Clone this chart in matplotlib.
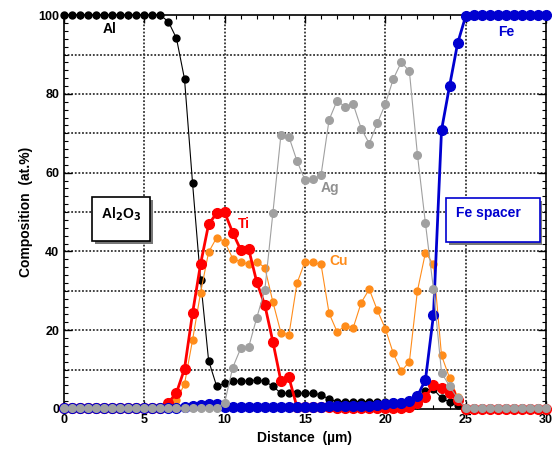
import matplotlib.pyplot as plt
import numpy as np
from matplotlib.patches import Rectangle

plt.rcParams['font.family'] = ['Liberation Sans', 'DejaVu Sans']
plt.rcParams['font.weight'] = 'bold'

# distance in um, one point every 0.5 um
dist = np.arange(0, 30.5, 0.5)

al = [100]*13 + [98.3, 94.1, 83.8, 57.4, 32.7, 12.3, 5.8, 6.5, 7.1, 7.1, 7.1, 7.4, 7.0,
      5.8, 4.0, 4.0, 4.0, 4.0, 4.0, 3.6, 2.5, 1.9, 1.9, 1.9, 1.9, 1.9, 1.9, 1.9, 1.9,
      1.9, 1.9, 3.0, 4.5, 5.0, 2.8, 1.8, 1.0] + [0]*11
ti = [0.3]*13 + [1.6, 4.1, 10.2, 24.3, 36.8, 46.9, 49.7, 49.9, 44.8, 40.4, 40.5, 32.2,
      26.4, 17.1, 7.1, 8.0, 0.5, 0.5, 0.5, 0.5, 0.5, 0.2, 0.2, 0.2, 0.2, 0.2, 0.2, 0.2,
      0.2, 0.2, 0.5, 1.4, 3.1, 6.0, 5.3, 4.0, 2.4] + [0]*11
cu = [0.3]*13 + [0.5, 2.3, 6.3, 17.5, 29.5, 39.8, 43.5, 42.5, 38.2, 37.4, 36.7, 37.4,
      35.9, 27.2, 19.4, 18.8, 31.9, 37.4, 37.2, 36.7, 24.3, 19.6, 21.1, 20.6, 27.0,
      30.4, 25.1, 20.4, 14.1, 9.6, 12.0, 30.0, 39.7, 36.7, 13.6, 7.9, 3.1] + [0]*11
ag = [0.3]*20 + [1.6, 10.5, 15.4, 15.8, 23.2, 30.2, 49.7, 69.5, 69.1, 63.0, 58.1, 58.3,
     59.4, 73.4, 78.3, 76.7, 77.4, 71.2, 67.4, 72.5, 77.4, 83.8, 88.1, 85.7, 64.6,
     47.1, 30.4, 9.2, 5.8, 2.7] + [0.3]*11
fe = [0.3]*15 + [0.5, 0.7, 0.9, 1.2, 1.3, 0.5, 0.5, 0.5, 0.5, 0.6, 0.6, 0.6, 0.6, 0.6,
     0.6, 0.6, 0.6, 0.6, 0.7, 0.7, 0.7, 0.7, 0.8, 0.8, 1.0, 1.2, 1.4, 1.6, 2.0, 3.3,
     7.4, 23.9, 70.8, 82.0, 92.8, 99.7] + [100]*10

fig = plt.figure(figsize=(5.52, 4.58), dpi=100)
ax = fig.add_axes([0.116, 0.107, 0.873, 0.86])

ax.plot(dist, al, '-o', color='black', lw=0.8, ms=5, clip_on=False, zorder=3)
ax.plot(dist, cu, '-o', color='#ff8c1a', lw=0.8, ms=5, clip_on=False, zorder=3)
ax.plot(dist, ti, '-o', color='#ff0000', lw=2.0, ms=7, clip_on=False, zorder=3)
ax.plot(dist, fe, '-o', color='#0000d0', lw=2.0, ms=7, clip_on=False, zorder=3)
ax.plot(dist, ag, '-o', color='#a0a0a0', lw=0.8, ms=5.5, clip_on=False, zorder=3)

ax.set_xlim(0, 30)
ax.set_ylim(0, 100)
ax.set_xticks([0, 5, 10, 15, 20, 25, 30])
ax.set_yticks([0, 20, 40, 60, 80, 100])
ax.set_xticks(np.arange(0, 31, 1), minor=True)
ax.set_yticks(np.arange(0, 101, 2), minor=True)
ax.tick_params(which='both', direction='in', top=True, right=True, labelsize=9)
ax.tick_params(which='major', length=6, width=1)
ax.tick_params(which='minor', length=3, width=0.8)
for s in ax.spines.values():
    s.set_linewidth(1.2)

for x in [5, 10, 15, 20, 25]:
    ax.axvline(x, color='#333333', lw=1.3, ls=(0, (1, 1)), zorder=1)
for y in range(10, 100, 10):
    ax.axhline(y, color='#333333', lw=1.3, ls=(0, (1, 1)), zorder=1)

ax.set_xlabel('Distance  (µm)', fontsize=10, fontweight='bold')
ax.set_ylabel('Composition  (at.%)', fontsize=10, fontweight='bold')

ax.text(2.4, 96.5, 'Al', fontsize=10, fontweight='bold', color='black', va='center')
ax.text(27.0, 95.7, 'Fe', fontsize=10, fontweight='bold', color='#0000d0', va='center')
ax.text(16.0, 56, 'Ag', fontsize=10, fontweight='bold', color='#909090', va='center')
ax.text(10.8, 47, 'Ti', fontsize=10, fontweight='bold', color='#ff0000', va='center')
ax.text(16.5, 37.5, 'Cu', fontsize=10, fontweight='bold', color='#ff8c1a', va='center')

# label boxes with shadow
ax.add_patch(Rectangle((1.9, 41.9), 3.63, 11.2, facecolor='#777777', edgecolor='none', zorder=4))
ax.add_patch(Rectangle((1.72, 42.7), 3.63, 11.2, facecolor='white', edgecolor='black', lw=1.2, zorder=5))
ax.text(3.53, 49.5, 'Al$_2$O$_3$', fontsize=10, fontweight='bold', ha='center', va='center', zorder=6)

ax.add_patch(Rectangle((23.98, 41.7), 5.8, 11.1, facecolor='#777777', edgecolor='none', zorder=4))
ax.add_patch(Rectangle((23.8, 42.5), 5.8, 11.1, facecolor='white', edgecolor='#0000d0', lw=1.2, zorder=5))
ax.text(24.4, 49.8, 'Fe spacer', fontsize=10, fontweight='bold', color='#0000d0',
        ha='left', va='center', zorder=6)

fig.savefig('out.png', dpi=100)
